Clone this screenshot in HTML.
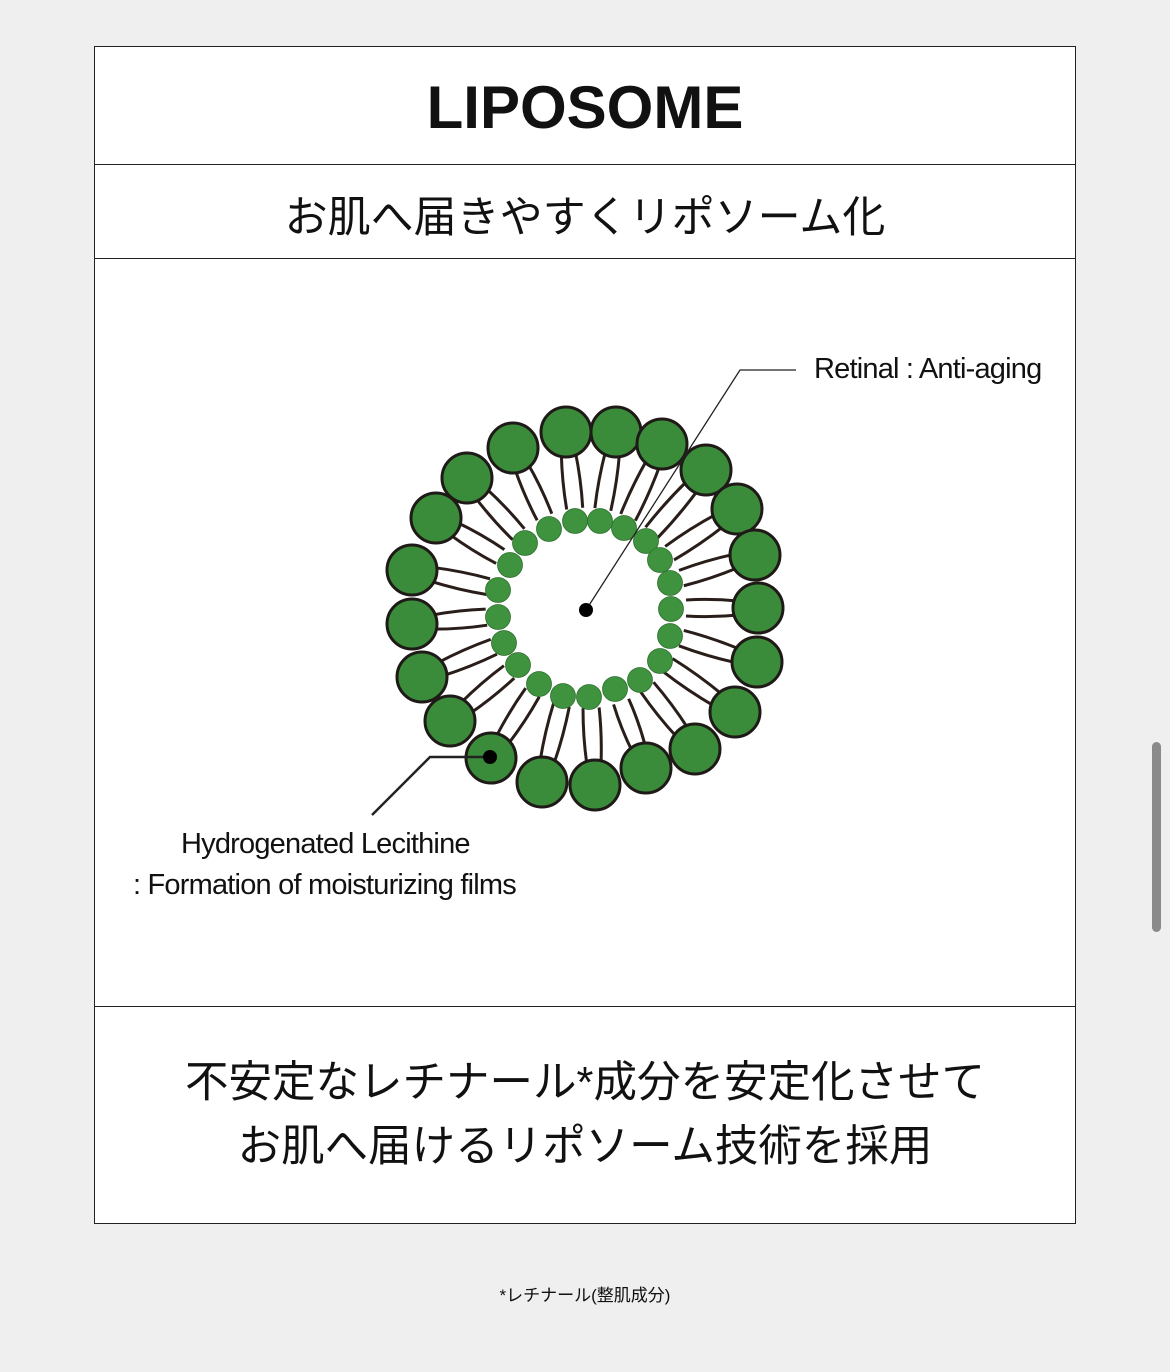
<!DOCTYPE html>
<html><head><meta charset="utf-8"><style>
html,body{margin:0;padding:0;background:#efefef;width:1170px;height:1372px;overflow:hidden;position:relative;font-family:"Liberation Sans","Noto Sans CJK JP",sans-serif;}
.box{position:absolute;left:94px;top:46px;width:980px;height:1176px;border:1.5px solid #222;background:#fff;}
.t{position:absolute;left:0;width:100%;text-align:center;color:#111;}
.hl{position:absolute;left:0;width:100%;height:0;border-top:1.5px solid #222;}
.lbl{position:absolute;font-size:29px;color:#111;white-space:nowrap;letter-spacing:-0.8px;}
</style></head><body>
<div class="box">
 <div class="t" style="top:26px;font-size:60px;font-weight:bold;letter-spacing:0px;">LIPOSOME</div>
 <div class="hl" style="top:117px"></div>
 <div class="t" style="top:136px;font-size:43px;">お肌へ届きやすくリポソーム化</div>
 <div class="hl" style="top:211px"></div>
 <div class="hl" style="top:959px"></div>
 <div class="t" style="top:1004px;font-size:43.5px;line-height:64px;">不安定なレチナール*成分を安定化させて<br>お肌へ届けるリポソーム技術を採用</div>
</div>
<svg id="s" width="1170" height="1372" style="position:absolute;left:0;top:0" xmlns="http://www.w3.org/2000/svg"></svg>
<div class="lbl" style="left:814px;top:353px;">Retinal : Anti-aging</div>
<div class="lbl" style="left:181px;top:828px;">Hydrogenated Lecithine</div>
<div class="lbl" style="left:133px;top:869px;">: Formation of moisturizing films</div>
<div style="position:absolute;left:0;width:1170px;top:1281px;text-align:center;font-size:17px;color:#111;">*レチナール(整肌成分)</div>
<div style="position:absolute;left:1152px;top:742px;width:9px;height:190px;border-radius:5px;background:#8a8a8a;"></div>
<script>
var s=document.getElementById('s'),h='';
var cx=586,cy=608;
var outer=[[513,448],[566,432],[616,432],[662,444],[706,470],[737,509],[755,555],[758,608],[757,662],[735,712],[695,749],[646,768],[595,785],[542,782],[491,758],[450,721],[422,677],[412,624],[412,570],[436,518],[467,478]];
var inner=[[575,521],[600,521],[624,528],[646,541],[660,560],[670,583],[671,609],[670,636],[660,661],[640,680],[615,689],[589,697],[563,696],[539,684],[518,665],[504,643],[498,617],[498,590],[510,565],[525,543],[549,529]];
outer.forEach(function(p){
 var dx=cx-p[0],dy=cy-p[1],d=Math.sqrt(dx*dx+dy*dy),ux=dx/d,uy=dy/d,px=-uy,py=ux;
 [-7,7].forEach(function(o){
  var x1=p[0]+ux*20+px*o,y1=p[1]+uy*20+py*o,x2=p[0]+ux*(d-100)+px*o*1.15,y2=p[1]+uy*(d-100)+py*o*1.15;
  var mx=(x1+x2)/2+px*o*0.3,my=(y1+y2)/2+py*o*0.3;
  h+='<path d="M'+x1+' '+y1+' Q'+mx+' '+my+' '+x2+' '+y2+'" stroke="#2a1e1a" stroke-width="3" fill="none"/>';
 });
});
outer.forEach(function(p){h+='<circle cx="'+p[0]+'" cy="'+p[1]+'" r="25" fill="#3b8c3a" stroke="#1f1a17" stroke-width="3"/>';});
inner.forEach(function(p){h+='<circle cx="'+p[0]+'" cy="'+p[1]+'" r="12.5" fill="#3f933f" stroke="#2f6e2f" stroke-width="0.8"/>';});
h+='<polyline points="586,610 740,370 796,370" fill="none" stroke="#222" stroke-width="1.3"/>';
h+='<circle cx="586" cy="610" r="7" fill="#000"/>';
h+='<polyline points="490,757 430,757 372,815" fill="none" stroke="#222" stroke-width="2.5"/>';
h+='<circle cx="490" cy="757" r="7" fill="#000"/>';
s.innerHTML=h;
</script>
</body></html>
